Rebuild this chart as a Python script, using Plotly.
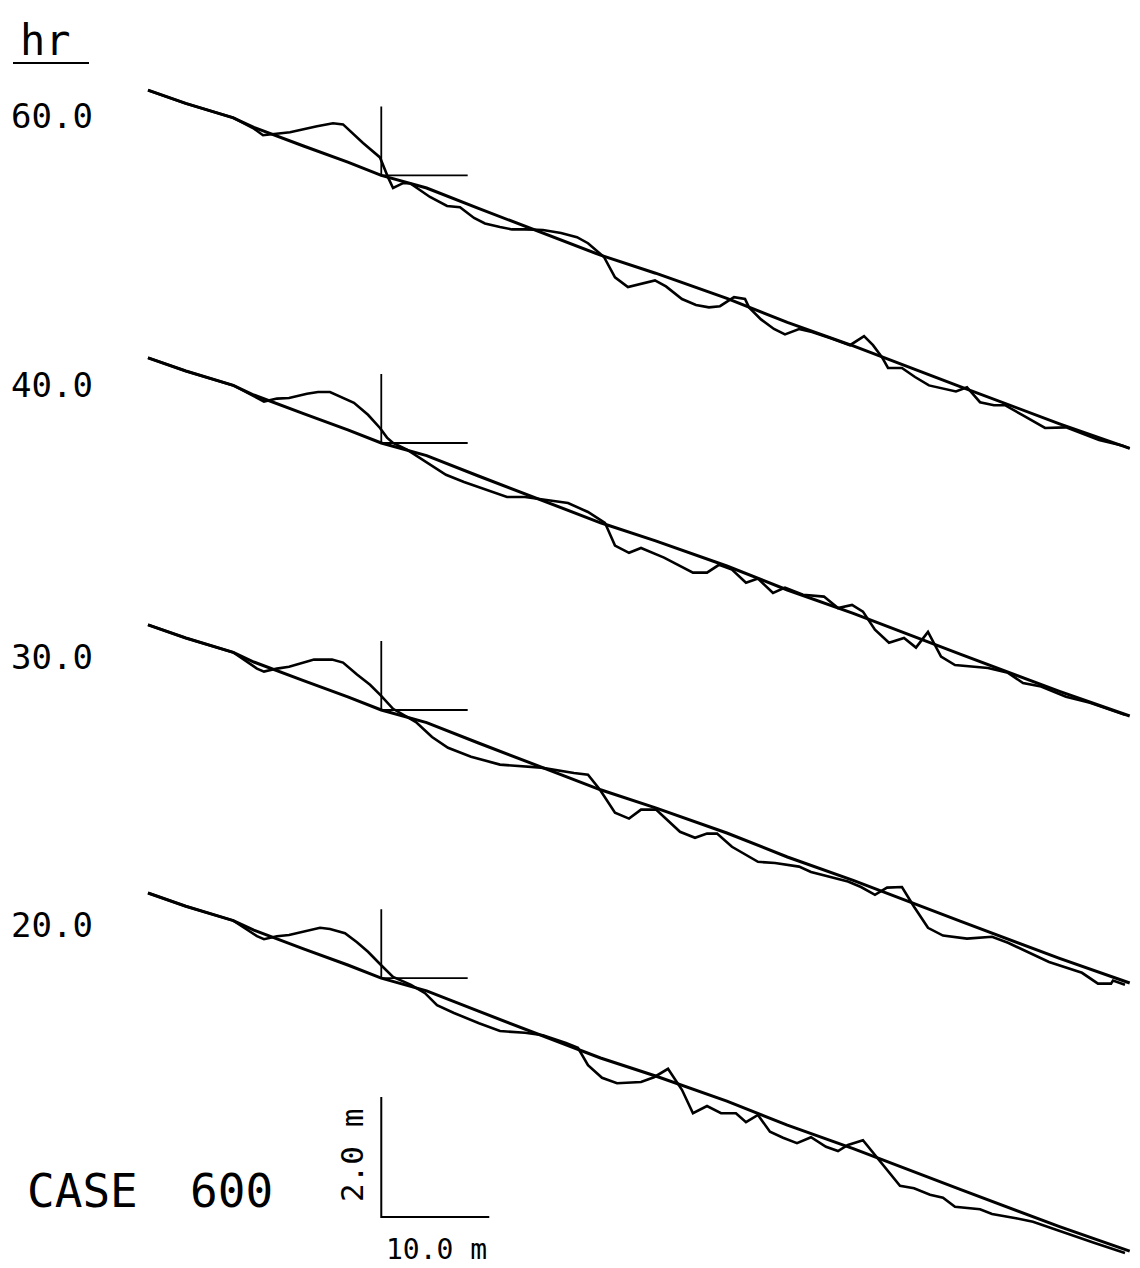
import plotly.graph_objects as go

# ---------------- data (distance along profile in m, elevation relative to profile start in m)
hours = [60.0, 40.0, 30.0, 20.0]

# smooth reference bed line (same for every panel)
ref_x = [0, 3.5, 7.9, 9.8, 14.4, 18.5, 21.6, 25.8, 30.6, 35.3, 41.9, 47.0, 53.6, 59.2, 65.3, 75.2, 84.4, 90.9]
ref_z = [0, -0.22, -0.46, -0.62, -0.93, -1.20, -1.42, -1.63, -1.97, -2.30, -2.75, -3.05, -3.47, -3.87, -4.26, -4.94, -5.56, -5.97]

x60 = [0, 3.5, 7.9, 9.72, 10.65, 11.94, 13.15, 15.65, 17.13, 18.06, 19.91, 21.48, 21.76, 22.22, 22.69,
       23.61, 24.26, 26.11, 27.69, 28.89, 30.19, 31.20, 32.59, 33.70, 34.91, 36.57, 38.24, 39.72, 40.74,
       42.22, 43.24, 44.44, 46.94, 47.96, 49.44, 50.74, 51.94, 52.96, 54.26, 55.28, 55.65, 56.76, 57.96,
       58.98, 60.28, 61.48, 63.15, 65.00, 66.30, 67.13, 67.96, 68.52, 69.81, 71.02, 72.31, 74.81, 75.83,
       77.04, 78.33, 79.35, 81.02, 83.06, 85.0, 86.39, 88.06, 90.19, 90.9]
z60 = [0, -0.22, -0.46, -0.63, -0.75, -0.72, -0.70, -0.60, -0.55, -0.57, -0.88, -1.12, -1.25, -1.45, -1.63,
       -1.55, -1.55, -1.78, -1.93, -1.95, -2.13, -2.22, -2.28, -2.32, -2.32, -2.33, -2.38, -2.45, -2.55,
       -2.78, -3.12, -3.28, -3.17, -3.27, -3.48, -3.58, -3.62, -3.60, -3.45, -3.48, -3.62, -3.82, -3.98,
       -4.07, -3.98, -4.03, -4.13, -4.25, -4.10, -4.25, -4.45, -4.63, -4.63, -4.78, -4.92, -5.02, -4.95,
       -5.20, -5.25, -5.25, -5.42, -5.63, -5.62, -5.72, -5.83, -5.92, -5.97]

x40 = [0, 3.5, 7.9, 10.09, 10.74, 11.94, 13.06, 14.72, 15.74, 16.85, 19.07, 20.37, 21.48, 22.13, 22.69,
       23.98, 25.65, 27.59, 29.26, 31.30, 33.24, 34.91, 37.13, 38.89, 40.74, 42.31, 43.24, 44.54, 45.65,
       47.78, 50.46, 51.76, 52.87, 54.07, 55.37, 56.48, 57.87, 58.98, 60.65, 62.59, 63.89, 65.19, 66.20,
       67.31, 68.61, 70.0, 71.11, 72.22, 73.43, 74.72, 77.78, 79.63, 81.02, 82.69, 85.0, 87.22, 90.46]
z40 = [0, -0.22, -0.46, -0.67, -0.73, -0.68, -0.67, -0.60, -0.57, -0.57, -0.75, -0.95, -1.17, -1.33, -1.42,
       -1.53, -1.73, -1.95, -2.07, -2.20, -2.32, -2.32, -2.38, -2.42, -2.57, -2.75, -3.13, -3.25, -3.17,
       -3.33, -3.58, -3.58, -3.45, -3.53, -3.75, -3.68, -3.92, -3.83, -3.95, -3.98, -4.17, -4.12, -4.23,
       -4.53, -4.75, -4.67, -4.83, -4.57, -4.98, -5.12, -5.17, -5.25, -5.42, -5.48, -5.65, -5.75, -5.95]

x30 = [0, 3.5, 7.9, 10.09, 10.74, 11.94, 13.06, 15.37, 17.04, 18.06, 19.35, 20.56, 21.57, 22.69, 24.81,
       26.30, 27.78, 29.91, 32.59, 35.28, 36.39, 39.44, 40.74, 41.85, 43.24, 44.54, 45.65, 47.04, 49.26,
       50.65, 51.76, 52.69, 54.07, 56.48, 58.06, 60.28, 61.39, 64.81, 66.02, 67.31, 68.43, 69.81, 70.93,
       72.22, 73.61, 75.83, 78.15, 79.63, 81.57, 83.43, 86.48, 87.96, 89.17, 89.35, 90.46]
z30 = [0, -0.22, -0.46, -0.73, -0.78, -0.73, -0.70, -0.58, -0.58, -0.63, -0.83, -1.00, -1.18, -1.40, -1.62,
       -1.87, -2.05, -2.20, -2.33, -2.37, -2.38, -2.47, -2.50, -2.75, -3.13, -3.23, -3.08, -3.08, -3.45,
       -3.55, -3.48, -3.48, -3.70, -3.95, -3.97, -4.03, -4.12, -4.28, -4.37, -4.50, -4.38, -4.37, -4.70,
       -5.05, -5.18, -5.23, -5.20, -5.30, -5.47, -5.62, -5.80, -5.98, -5.98, -5.93, -6.00]

x20 = [0, 3.5, 7.9, 10.09, 10.74, 11.94, 13.06, 14.72, 15.93, 16.85, 18.24, 19.35, 20.37, 21.57, 22.69,
       24.35, 25.65, 26.76, 28.33, 30.65, 32.59, 34.91, 36.57, 38.70, 39.81, 40.74, 42.04, 43.43, 45.65,
       46.85, 48.15, 49.44, 50.46, 51.76, 53.06, 54.44, 55.37, 56.48, 57.59, 58.80, 60.09, 61.39, 62.78,
       63.89, 64.81, 66.20, 68.06, 69.63, 70.93, 72.41, 73.61, 74.72, 77.04, 78.15, 80.37, 81.94, 87.59, 90.46]
z20 = [0, -0.22, -0.46, -0.72, -0.77, -0.72, -0.70, -0.63, -0.58, -0.60, -0.67, -0.82, -0.98, -1.20, -1.40,
       -1.53, -1.67, -1.87, -2.00, -2.17, -2.30, -2.33, -2.37, -2.50, -2.58, -2.87, -3.08, -3.17, -3.15,
       -3.07, -2.93, -3.28, -3.67, -3.55, -3.67, -3.67, -3.82, -3.70, -3.98, -4.08, -4.17, -4.07, -4.23,
       -4.30, -4.20, -4.12, -4.53, -4.88, -4.92, -5.03, -5.08, -5.23, -5.27, -5.35, -5.42, -5.48, -5.83, -6.00]

profiles = {60.0: (x60, z60), 40.0: (x40, z40), 30.0: (x30, z30), 20.0: (x20, z20)}

# reference mark (cross) location on each profile
mark_x = 21.6
mark_top = -0.27
mark_base = -1.42
mark_arm = 8.0

# scale bar values
scale_len_x = 10.0
scale_len_z = 2.0

# ---------------- layout parameters
W, H = 1140, 1268
stack_offset = {60.0: 19.63, 40.0: 15.17, 30.0: 10.72, 20.0: 6.25}
label_py = {60.0: 116, 40.0: 385, 30.0: 657, 20.0: 925}
scale_x0, scale_y0 = 21.6, 0.85
FONT = "DejaVu Sans Mono"
LW = 3.0

fig = go.Figure()

for h in hours:
    off = stack_offset[h]
    fig.add_trace(go.Scatter(x=ref_x, y=[z + off for z in ref_z], mode="lines",
                             line=dict(color="black", width=LW), hoverinfo="skip", showlegend=False))
    px_, pz_ = profiles[h]
    fig.add_trace(go.Scatter(x=px_, y=[z + off for z in pz_], mode="lines",
                             line=dict(color="black", width=LW - 0.4), hoverinfo="skip", showlegend=False))
    # cross mark: vertical stem + horizontal arm
    fig.add_trace(go.Scatter(x=[mark_x, mark_x, mark_x + mark_arm],
                             y=[mark_top + off, mark_base + off, mark_base + off],
                             mode="lines", line=dict(color="black", width=1.8),
                             hoverinfo="skip", showlegend=False))
    fig.add_annotation(x=9 / W, y=1 - label_py[h] / H, xref="paper", yref="paper",
                       text=f"{h:.1f}", showarrow=False, xanchor="left", yanchor="middle",
                       font=dict(family=FONT, size=34, color="black"))

# scale bar
fig.add_trace(go.Scatter(x=[scale_x0, scale_x0, scale_x0 + scale_len_x],
                         y=[scale_y0 + scale_len_z, scale_y0, scale_y0],
                         mode="lines", line=dict(color="black", width=2),
                         hoverinfo="skip", showlegend=False))

fig.add_annotation(x=352 / W, y=1 - 1156 / H, xref="paper", yref="paper", text=f"{scale_len_z:.1f} m",
                   textangle=-90, showarrow=False, xanchor="center", yanchor="middle",
                   font=dict(family=FONT, size=31, color="black"))
fig.add_annotation(x=436 / W, y=1 - 1249 / H, xref="paper", yref="paper", text=f"{scale_len_x:.1f} m",
                   showarrow=False, xanchor="center", yanchor="middle",
                   font=dict(family=FONT, size=28, color="black"))

# header "hr" with underline
fig.add_annotation(x=18 / W, y=1 - 40 / H, xref="paper", yref="paper", text="hr",
                   showarrow=False, xanchor="left", yanchor="middle",
                   font=dict(family=FONT, size=42, color="black"))
fig.add_shape(type="line", xref="paper", yref="paper", x0=13 / W, x1=89 / W,
              y0=1 - 63 / H, y1=1 - 63 / H, line=dict(color="black", width=2))

# case label
fig.add_annotation(x=25 / W, y=1 - 1191 / H, xref="paper", yref="paper", text="CASE",
                   showarrow=False, xanchor="left", yanchor="middle",
                   font=dict(family=FONT, size=46, color="black"))
fig.add_annotation(x=188 / W, y=1 - 1191 / H, xref="paper", yref="paper", text="600",
                   showarrow=False, xanchor="left", yanchor="middle",
                   font=dict(family=FONT, size=46, color="black"))

fig.update_layout(
    width=W, height=H, margin=dict(l=0, r=0, t=0, b=0),
    paper_bgcolor="white", plot_bgcolor="white",
    xaxis=dict(range=[-148 / 10.8, (W - 148) / 10.8], visible=False, fixedrange=True),
    yaxis=dict(range=[0, H / 60.0], visible=False, fixedrange=True),
)

fig.write_html("out.html", config={"displayModeBar": False},
               post_script="document.body.style.margin='0';document.body.style.overflow='hidden';")
